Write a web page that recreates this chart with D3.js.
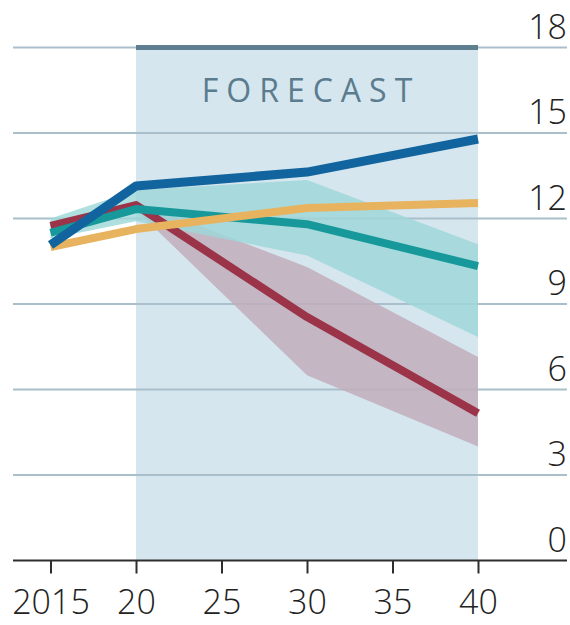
<!DOCTYPE html>
<html>
<head>
<meta charset="utf-8">
<script src="https://cdn.jsdelivr.net/npm/d3@7/dist/d3.min.js"></script>
<style>
  html, body { margin: 0; padding: 0; background: #ffffff; }
  text { font-family: 'Open Sans', 'Noto Sans', sans-serif; font-weight: 350; }
</style>
</head>
<body>
<svg id="canvas"></svg>
<script>
////////////////////////////////////////////////////////////////////////////////
// Data.
////////////////////////////////////////////////////////////////////////////////
var years = [2015, 2020, 2030, 2040];
var blueValues = [11.07, 13.14, 13.63, 14.79];
var redValues = [11.74, 12.47, 8.54, 5.17];
var tealValues = [11.5, 12.33, 11.8, 10.33];
var orangeValues = [11.0, 11.63, 12.37, 12.54];

// Uncertainty bands.
var tealBandYears = [2015, 2020, 2030, 2040];
var tealBandHigh = [12.0, 13.0, 13.35, 11.1];
var tealBandLow = [11.3, 11.9, 10.7, 7.84];
var redBandYears = [2020, 2030, 2040];
var redBandHigh = [12.6, 10.3, 7.14];
var redBandLow = [12.3, 6.5, 4.0];

// Ticks.
var xTicks = [2015, 2020, 2025, 2030, 2035, 2040];
var xTickLabels = ['2015', '20', '25', '30', '35', '40'];
var yTicks = [0, 3, 6, 9, 12, 15, 18];
var forecastRange = [2020, 2040];
var forecastLabel = 'FORECAST';

// Canvas properties.
var canvas = {
  width: 570,
  height: 625
}

// Graph properties.
var graph = {
  left: 13,
  right: 567,
  colour: {
    grid: '#a9c0cc',
    axis: '#2e2e2e',
    text: '#222222',
    forecast: '#d6e6ef',
    forecastBar: '#5f7f91',
    forecastText: '#5a7c8e',
    blue: '#12649e',
    red: '#9b3349',
    teal: '#17999b',
    orange: '#e8b35f',
    tealBand: '#9cd7d8',
    redBand: '#c1aebb'
  }
}

var svg = d3.select('#canvas')
            .attr('width', canvas.width)
            .attr('height', canvas.height);

// Scales.
var xScale = d3.scaleLinear().domain([2015, 2040]).range([50.5, 478]);
var yScale = d3.scaleLinear().domain([0, 18]).range([560.5, 47.5]);

////////////////////////////////////////////////////////////////////////////////
// Forecast shading.
////////////////////////////////////////////////////////////////////////////////
svg.append('rect')
    .attr('x', xScale(forecastRange[0]))
    .attr('y', yScale(18))
    .attr('width', xScale(forecastRange[1]) - xScale(forecastRange[0]))
    .attr('height', yScale(0) - yScale(18))
    .style('fill', graph.colour.forecast);

// Gridlines.
svg.selectAll('.grid')
    .data(yTicks.filter(function(d) { return d > 0 }))
    .enter()
    .append('line')
    .attr('class', 'grid')
    .attr('x1', graph.left)
    .attr('x2', graph.right)
    .attr('y1', function(d) { return yScale(d) })
    .attr('y2', function(d) { return yScale(d) })
    .style('stroke', graph.colour.grid)
    .style('stroke-width', 2);

// Dark bar on top of the forecast region.
svg.append('line')
    .attr('x1', xScale(forecastRange[0]))
    .attr('x2', xScale(forecastRange[1]))
    .attr('y1', yScale(18))
    .attr('y2', yScale(18))
    .style('stroke', graph.colour.forecastBar)
    .style('stroke-width', 5);

// Forecast label.
svg.append('text')
    .attr('x', (xScale(forecastRange[0]) + xScale(forecastRange[1])) / 2 + 4)
    .attr('y', 102)
    .attr('text-anchor', 'middle')
    .style('font-size', '32px')
    .style('font-weight', 400)
    .style('letter-spacing', '8px')
    .style('fill', graph.colour.forecastText)
    .text(forecastLabel);

////////////////////////////////////////////////////////////////////////////////
// Bands.
////////////////////////////////////////////////////////////////////////////////
var band = d3.area()
              .x(function(d) { return xScale(d.year) })
              .y0(function(d) { return yScale(d.low) })
              .y1(function(d) { return yScale(d.high) });

function bandData(ys, hi, lo) {
  return ys.map(function(y, i) { return {year: y, high: hi[i], low: lo[i]} });
}

svg.append('path')
    .attr('d', band(bandData(redBandYears, redBandHigh, redBandLow)))
    .style('fill', graph.colour.redBand)
    .style('fill-opacity', 0.85);

svg.append('path')
    .attr('d', band(bandData(tealBandYears, tealBandHigh, tealBandLow)))
    .style('fill', graph.colour.tealBand)
    .style('fill-opacity', 0.8);

////////////////////////////////////////////////////////////////////////////////
// Lines.
////////////////////////////////////////////////////////////////////////////////
var line = d3.line()
              .x(function(d, i) { return xScale(years[i]) })
              .y(function(d) { return yScale(d) });

var series = [
  {values: redValues, colour: graph.colour.red, width: 8},
  {values: tealValues, colour: graph.colour.teal, width: 8},
  {values: orangeValues, colour: graph.colour.orange, width: 8},
  {values: blueValues, colour: graph.colour.blue, width: 9}
];

svg.selectAll('.series')
    .data(series)
    .enter()
    .append('path')
    .attr('class', 'series')
    .attr('d', function(d) { return line(d.values) })
    .style('fill', 'none')
    .style('stroke', function(d) { return d.colour })
    .style('stroke-width', function(d) { return d.width })
    .style('stroke-linejoin', 'round');

////////////////////////////////////////////////////////////////////////////////
// Axes.
////////////////////////////////////////////////////////////////////////////////
svg.append('line')
    .attr('x1', graph.left)
    .attr('x2', graph.right)
    .attr('y1', yScale(0))
    .attr('y2', yScale(0))
    .style('stroke', graph.colour.axis)
    .style('stroke-width', 2);

var xAxis = d3.axisBottom(xScale)
              .tickValues(xTicks)
              .tickSize(13)
              .tickPadding(16)
              .tickFormat(function(d, i) { return xTickLabels[i] });

var xAxisGroup = svg.append('g')
    .attr('transform', 'translate(0,' + yScale(0) + ')')
    .call(xAxis);
xAxisGroup.select('.domain').remove();
xAxisGroup.selectAll('line')
    .style('stroke', graph.colour.axis)
    .style('stroke-width', 2);
xAxisGroup.selectAll('text')
    .style('font-family', "'Open Sans', sans-serif")
    .style('font-weight', 350)
    .style('font-size', '34px')
    .style('fill', graph.colour.text);

// Y labels sit above their gridlines on the right.
svg.selectAll('.ylabel')
    .data(yTicks)
    .enter()
    .append('text')
    .attr('class', 'ylabel')
    .attr('x', graph.right)
    .attr('y', function(d) { return yScale(d) - 9 })
    .attr('text-anchor', 'end')
    .style('font-size', '34px')
    .style('fill', graph.colour.text)
    .text(function(d) { return d });
</script>
</body>
</html>
